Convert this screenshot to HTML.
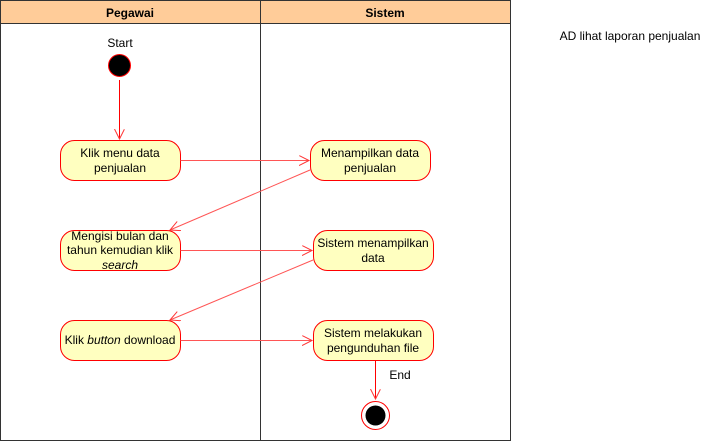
<!DOCTYPE html>
<html><head><style>
body{margin:0;background:#fff;}
svg text{font-family:"Liberation Sans",Arial,sans-serif;font-size:12px;fill:#000;}
</style></head><body>
<svg width="711" height="441" viewBox="0 0 711 441" xmlns="http://www.w3.org/2000/svg">
<defs>
<marker id="a" markerWidth="12" markerHeight="12" refX="10" refY="5" orient="auto" markerUnits="userSpaceOnUse">
<path d="M0,0 L10,5 L0,10" fill="none" stroke="#f33" stroke-width="1"/>
</marker>
</defs>
<rect x="0.5" y="0.5" width="510" height="440" fill="#fff" stroke="#333"/>
<rect x="0.5" y="0.5" width="260" height="23" fill="#ffcc99" stroke="#333"/>
<rect x="260.5" y="0.5" width="250" height="23" fill="#ffcc99" stroke="#333"/>
<line x1="260.5" y1="23" x2="260.5" y2="440" stroke="#333"/>
<text x="130" y="17" text-anchor="middle" font-weight="bold">Pegawai</text>
<text x="385" y="17" text-anchor="middle" font-weight="bold">Sistem</text>
<text x="630" y="40" text-anchor="middle">AD lihat laporan penjualan</text>

<text x="120" y="47" text-anchor="middle">Start</text>
<circle cx="119.5" cy="65.5" r="11" fill="#000" stroke="#f00"/>
<line x1="119.5" y1="80" x2="119.5" y2="139" stroke="#f00" marker-end="url(#a)"/>

<g fill="#ffffc0" stroke="#f00" stroke-width="1">
<rect x="60.5" y="140.5" width="120" height="40" rx="14"/>
<rect x="310.5" y="140.5" width="120" height="40" rx="14"/>
<rect x="60.5" y="230.5" width="120" height="40" rx="14"/>
<rect x="313.5" y="230.5" width="120" height="40" rx="14"/>
<rect x="60.5" y="320.5" width="120" height="40" rx="14"/>
<rect x="313.5" y="320.5" width="120" height="40" rx="14"/>
</g>
<g stroke="#f55" fill="none">
<line x1="180.5" y1="160.5" x2="309" y2="160.5" marker-end="url(#a)"/>
<line x1="310" y1="170" x2="170" y2="230" marker-end="url(#a)"/>
<line x1="180.5" y1="250.5" x2="312" y2="250.5" marker-end="url(#a)"/>
<line x1="313" y1="260" x2="170" y2="320" marker-end="url(#a)"/>
<line x1="180.5" y1="340.5" x2="312" y2="340.5" marker-end="url(#a)"/>
<line x1="375.5" y1="361" x2="375.5" y2="399" stroke="#f00" marker-end="url(#a)"/>
</g>
<text x="120" y="157" text-anchor="middle">Klik menu data</text>
<text x="120" y="172" text-anchor="middle">penjualan</text>
<text x="370" y="157" text-anchor="middle">Menampilkan data</text>
<text x="370" y="172" text-anchor="middle">penjualan</text>
<text x="120" y="240" text-anchor="middle">Mengisi bulan dan</text>
<text x="120" y="254" text-anchor="middle">tahun kemudian klik</text>
<text x="120" y="269" text-anchor="middle" font-style="italic">search</text>
<text x="373" y="247" text-anchor="middle">Sistem menampilkan</text>
<text x="373" y="262" text-anchor="middle">data</text>
<text x="120" y="344" text-anchor="middle">Klik <tspan font-style="italic">button</tspan> download</text>
<text x="373" y="337" text-anchor="middle">Sistem melakukan</text>
<text x="373" y="352" text-anchor="middle">pengunduhan file</text>
<text x="400" y="379" text-anchor="middle">End</text>
<circle cx="375.5" cy="415.5" r="14" fill="#fff" stroke="#f00"/>
<circle cx="375.5" cy="415.5" r="10" fill="#000"/>
</svg>
</body></html>
